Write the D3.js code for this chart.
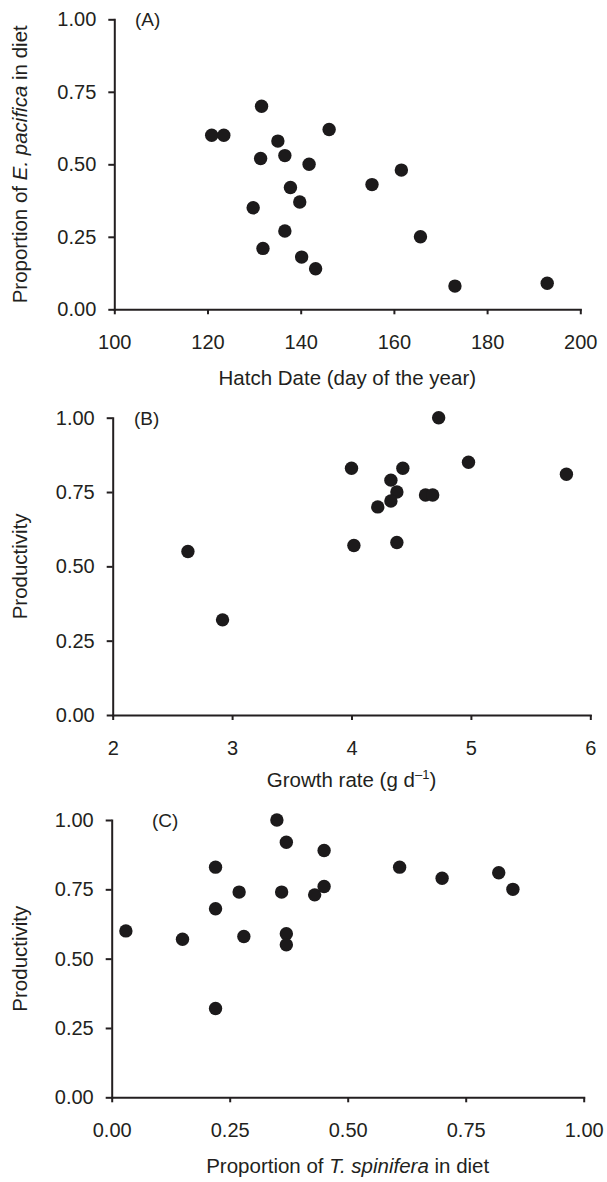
<!DOCTYPE html>
<html>
<head>
<meta charset="utf-8">
<script src="https://cdn.jsdelivr.net/npm/d3@7"></script>
<style>
  html, body { margin: 0; padding: 0; background: #fff; }
  svg { display: block; }
  text { font-family: "Liberation Sans", Arial, Helvetica, sans-serif; fill: #231f20; }
  .axis path, .axis line { stroke: #231f20; stroke-width: 2; }
</style>
</head>
<body>
<svg id="chart" width="607" height="1182"></svg>
<script>
// Panel A: hatch date vs. proportion of E. pacifica in diet
const hatchDate = [120.9, 123.5, 131.6, 135.1, 146.1, 131.4, 136.6, 141.8, 161.6, 155.3,
                   137.8, 139.8, 129.8, 136.6, 165.7, 131.9, 140.2, 143.2, 173.1, 192.9];
const pacificaShare = [0.60, 0.60, 0.70, 0.58, 0.62, 0.52, 0.53, 0.50, 0.48, 0.43,
                       0.42, 0.37, 0.35, 0.27, 0.25, 0.21, 0.18, 0.14, 0.08, 0.09];

// Panel B: growth rate vs. productivity
const growthRate = [4.73, 4.98, 5.80, 4.00, 4.43, 4.33, 4.38, 4.33, 4.62, 4.68,
                    4.22, 4.02, 4.38, 2.63, 2.92];
const productivityB = [1.00, 0.85, 0.81, 0.83, 0.83, 0.79, 0.75, 0.72, 0.74, 0.74,
                       0.70, 0.57, 0.58, 0.55, 0.32];

// Panel C: proportion of T. spinifera in diet vs. productivity
const spiniferaShare = [0.35, 0.37, 0.45, 0.22, 0.61, 0.70, 0.82, 0.85, 0.27, 0.36,
                        0.43, 0.45, 0.22, 0.03, 0.15, 0.28, 0.37, 0.37, 0.22];
const productivityC = [1.00, 0.92, 0.89, 0.83, 0.83, 0.79, 0.81, 0.75, 0.74, 0.74,
                       0.73, 0.76, 0.68, 0.60, 0.57, 0.58, 0.59, 0.55, 0.32];

// Tick values
const yTicks = [0, 0.25, 0.5, 0.75, 1];
const xTicksA = [100, 120, 140, 160, 180, 200];
const xTicksB = [2, 3, 4, 5, 6];
const xTicksC = [0, 0.25, 0.5, 0.75, 1];

const svg = d3.select("#chart");

function drawPanel(cfg) {
  const x = d3.scaleLinear().domain(cfg.xDomain).range([cfg.left, cfg.right]);
  const y = d3.scaleLinear().domain([0, 1]).range([cfg.bottom, cfg.top]);
  const g = svg.append("g");

  const yAxis = g.append("g").attr("class", "axis")
    .attr("transform", `translate(${cfg.left},0)`)
    .call(d3.axisLeft(y).tickValues(yTicks).tickFormat(d3.format(".2f"))
      .tickSize(6).tickSizeOuter(0).tickPadding(12));
  const xAxis = g.append("g").attr("class", "axis")
    .attr("transform", `translate(0,${cfg.bottom})`)
    .call(d3.axisBottom(x).tickValues(cfg.xTicks).tickFormat(cfg.xFormat)
      .tickSize(5).tickSizeOuter(0).tickPadding(21));
  [yAxis, xAxis].forEach(a => {
    a.selectAll("text").style("font-size", "20px")
      .style("font-family", '"Liberation Sans", Arial, sans-serif').attr("fill", "#231f20");
    a.select(".domain").attr("stroke-linecap", "square");
  });

  // Panel letter
  g.append("text").attr("x", cfg.tagX).attr("y", cfg.top + 7)
    .style("font-size", "19px").text(cfg.tag);

  // Dots
  g.selectAll("circle").data(cfg.xs.map((v, i) => [v, cfg.ys[i]]))
    .join("circle")
    .attr("cx", d => x(d[0])).attr("cy", d => y(d[1]))
    .attr("r", 6.7).attr("fill", "#1c1a1b");

  // Axis titles
  const xt = g.append("text").attr("x", (cfg.left + cfg.right) / 2)
    .attr("y", cfg.bottom + 69 + 7).attr("text-anchor", "middle")
    .style("font-size", "20.5px");
  cfg.xTitle(xt);

  const yt = g.append("text")
    .attr("transform", `translate(${27},${(cfg.top + cfg.bottom) / 2}) rotate(-90)`)
    .attr("text-anchor", "middle").style("font-size", "20.5px");
  cfg.yTitle(yt);
}

drawPanel({
  left: 114.3, right: 580.3, top: 19.3, bottom: 309.3,
  xDomain: [100, 200], xTicks: xTicksA, xFormat: d3.format("d"),
  xs: hatchDate, ys: pacificaShare, tag: "(A)", tagX: 135,
  xTitle: t => t.text("Hatch Date (day of the year)"),
  yTitle: t => {
    t.append("tspan").text("Proportion of ");
    t.append("tspan").style("font-style", "italic").text("E. pacifica");
    t.append("tspan").text(" in diet");
  }
});

drawPanel({
  left: 112.7, right: 590.3, top: 417.7, bottom: 715,
  xDomain: [2, 6], xTicks: xTicksB, xFormat: d3.format("d"),
  xs: growthRate, ys: productivityB, tag: "(B)", tagX: 134,
  xTitle: t => {
    t.attr("y", 715 + 65 + 7);
    t.append("tspan").text("Growth rate (g d");
    t.append("tspan").attr("dy", -8).style("font-size", "13px").text("\u20131");
    t.append("tspan").attr("dy", 8).text(")");
  },
  yTitle: t => t.text("Productivity")
});

drawPanel({
  left: 111.7, right: 583.7, top: 820, bottom: 1097.3,
  xDomain: [0, 1], xTicks: xTicksC, xFormat: d3.format(".2f"),
  xs: spiniferaShare, ys: productivityC, tag: "(C)", tagX: 152,
  xTitle: t => {
    t.append("tspan").text("Proportion of ");
    t.append("tspan").style("font-style", "italic").text("T. spinifera");
    t.append("tspan").text(" in diet");
  },
  yTitle: t => t.text("Productivity")
});
</script>
</body>
</html>
